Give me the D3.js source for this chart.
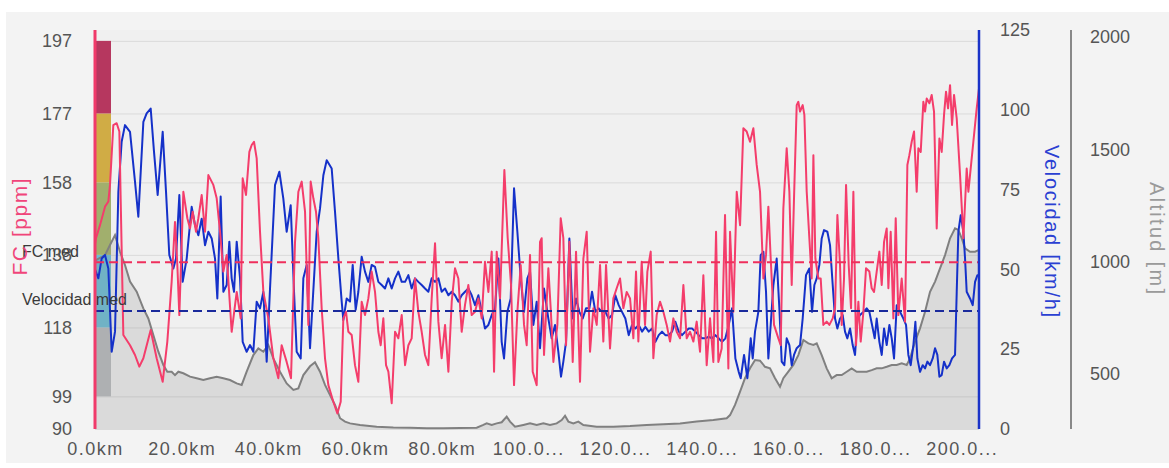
<!DOCTYPE html>
<html>
<head>
<meta charset="utf-8">
<script src="https://cdn.jsdelivr.net/npm/d3@7"></script>
<style>
  body { margin: 0; background: #fff; }
  svg { display: block; font-family: "Liberation Sans", Arial, sans-serif; }
</style>
</head>
<body>
<div id="chart"></div>
<script>
// ticks and labels
const kmTicks = [0, 20, 40, 60, 80, 100, 120, 140, 160, 180, 200];
const kmTickLabels = ["0.0km", "20.0km", "40.0km", "60.0km", "80.0km", "100.0...", "120.0...", "140.0...", "160.0...", "180.0...", "200.0..."];
const fcTicks = [90, 99, 118, 138, 158, 177, 197];
const velTicks = [0, 25, 50, 75, 100, 125];
const altTicks = [500, 1000, 1500, 2000];

// heart rate zones [from, to]
const fcZones = [[99, 118], [118, 138], [138, 158], [158, 177], [177, 197]];

const fcMed = 136;
const velMed = 37;

// [km, ppm]
const fcData = [
  [0,141],[0.23,142.6],[1.15,146.2],[2.31,151.3],[3.08,152.7],[3.46,157.3],[4.23,173.8],[5.0,174.3],[5.62,172],[6.54,115.9],
  [8.08,113.1],[9.23,110.4],[10.23,107.2],[11.16,109.5],[12.85,117.3],[14.23,109.5],[15.62,103],[16.69,114.1],[17.69,130.6],[18.46,147.1],
  [19.0,135.2],[19.46,121.4],[20.39,155.4],[21.31,148.1],[21.93,145.3],[22.54,149.9],[23.31,144.4],[23.85,148.1],[24.62,154.5],[25.39,144.4],
  [26.16,160],[27.31,157.3],[28.08,153.6],[28.85,144.4],[29.62,133.4],[30.39,138],[31.54,116.8],[32.7,127.8],[33.62,120.5],[34.08,159.1],
  [34.85,154.5],[35.62,166.4],[36.16,168.3],[36.69,169.2],[37.31,164.6],[38.08,144.4],[38.85,127.8],[40.0,120.5],[41.16,109.5],[42.31,104],
  [43.08,113.1],[44.23,108.5],[45.23,104],[46.16,141.6],[46.93,155.4],[47.7,158.2],[48.47,149.9],[49.23,118.7],[49.77,158.2],[50.39,153.6],
  [51.0,149.9],[51.54,142.6],[52.31,123.3],[53.08,109.5],[53.85,102.1],[55.0,97.5],[55.93,94.3],[56.7,97.5],[57.31,120.5],[57.93,122.3],
  [58.47,116.8],[59.24,115.9],[60.0,107.6],[60.77,103],[61.54,125.1],[62.31,121.4],[63.08,126],[63.85,133.4],[64.62,127.8],[65.39,116.8],
  [65.93,113.1],[66.54,120.5],[67.16,107.6],[67.7,105.8],[68.47,97.1],[69.24,116.8],[70.0,115],[70.78,121.4],[71.55,107.6],[72.32,113.1],
  [73.08,115],[73.85,131.5],[74.62,122.3],[75.39,116.8],[76.16,110.4],[76.93,107.6],[77.7,126],[78.47,141.2],[79.24,119.6],[80.0,109.5],
  [80.78,118.7],[81.55,105.8],[82.32,125.1],[83.08,134.3],[83.85,131.5],[84.62,116.8],[85.39,124.2],[86.16,129.7],[86.93,121.4],[87.7,122.3],
  [88.47,126],[89.24,120.5],[90.0,136.1],[90.78,127.8],[91.55,138.9],[92.09,105.8],[92.7,138.9],[93.47,126],[94.47,161.4],[95.24,142.6],
  [96.01,129.7],[96.7,102.1],[97.47,122.3],[98.24,135.2],[99.01,118.7],[99.62,113.1],[100.39,138],[101.01,105.8],[101.93,102.1],[102.7,141.6],
  [103.08,142.6],[103.62,110.4],[104.62,134.3],[105.16,123.3],[105.78,108.5],[106.7,118.7],[107.47,148.1],[108.08,142.6],[108.7,113.1],[109.47,141.6],
  [110.24,108.5],[111.01,138.9],[111.93,103],[112.7,137],[113.47,144.4],[114.24,111.3],[115.01,123.3],[115.78,118.7],[116.55,135.2],[117.31,114.1],
  [117.93,135.2],[118.85,112.2],[119.62,126],[120.39,128.8],[121.16,131.5],[121.93,123.3],[122.7,127.8],[123.47,126],[124.24,115],[124.85,133.4],
  [125.39,114.1],[126.16,136.1],[126.93,118.7],[127.47,133.4],[128.24,138.9],[128.85,109.5],[129.62,121.4],[130.39,125.1],[131.16,122.3],[131.93,118.7],
  [132.7,114.1],[133.47,120.5],[134.24,116.8],[135.01,115],[135.78,129.7],[136.55,115],[137.32,116.8],[138.09,114.1],[138.85,119.6],[139.62,111.3],
  [140.39,132.4],[141.16,107.6],[141.93,120.5],[142.7,108.5],[143.32,144.4],[143.85,108.5],[144.62,112.2],[145.39,149],[146.16,106.7],[146.55,144.4],
  [147.32,122.3],[148.09,155.4],[148.86,146.2],[149.62,172.9],[150.39,172],[151.16,169.2],[151.93,172.9],[152.7,162.8],[153.47,155.4],[154.24,131.5],
  [154.85,138],[155.39,151.3],[155.93,137],[156.7,118.7],[157.7,115],[158.24,113.1],[158.85,150.8],[159.62,167.4],[160.24,155.4],[160.78,129.7],
  [161.31,153.6],[161.93,179.3],[162.31,180.2],[162.7,177.5],[163.31,179.3],[163.7,176.6],[164.24,155.4],[164.85,142.6],[165.39,131.5],[165.78,165.5],
  [166.24,137],[166.93,131.5],[167.47,131.5],[168.08,118.7],[168.85,119.6],[169.47,118.7],[170.24,120.5],[170.78,123.3],[171.32,149],[171.93,135.2],
  [172.32,118.7],[172.85,131.5],[173.32,157.3],[173.93,135.2],[174.47,123.3],[175.01,155.4],[175.62,113.1],[176.16,125.1],[176.7,114.1],[177.32,122.3],
  [177.93,134.3],[178.7,133.4],[179.24,128.8],[179.78,127.8],[180.39,133.4],[181.01,138.9],[181.55,129.7],[182.09,141.6],[182.7,145.3],[183.09,128.8],
  [183.62,144.4],[184.24,120.5],[184.78,148.1],[185.39,121.4],[186.16,131.5],[186.93,119.6],[187.47,162.8],[187.93,165.5],[188.47,169.2],[189.01,172],
  [189.62,155.4],[190.01,167.4],[190.55,166.4],[191.16,180.2],[191.55,177.5],[191.93,181.1],[192.55,179.8],[193.08,182.1],[193.62,177.5],[194.24,145.3],
  [194.86,170.1],[195.39,166.4],[195.93,176.6],[196.39,183],[196.86,178.4],[197.32,184.8],[197.78,173.8],[198.24,182.1],[198.86,175.6],[199.63,160],
  [200.4,142.6],[201.16,161.8],[201.55,155.4],[201.93,160],[202.7,169.2],[203.47,178.4],[204,183.9]
];

// [km, km/h]
const velData = [
  [0,50],[0.77,47.2],[1.54,53.4],[2.31,54.5],[3.08,50.3],[3.85,24.2],[4.62,30.5],[5.39,74.3],[6.15,90],[6.92,95.2],
  [8.08,93.1],[9.23,77.5],[10.0,66.5],[11.16,96.2],[11.92,98.9],[12.85,100.4],[13.62,86.8],[14.46,73.3],[15.62,93.1],[16.39,74.3],
  [17.15,54.5],[18.08,50.3],[18.69,53.4],[19.46,73.3],[20.23,46.1],[21.16,53.4],[22.31,69.6],[23.08,63.9],[23.85,60.7],[24.62,65.9],
  [25.39,57.6],[26.16,61.8],[26.93,59.7],[27.7,53.4],[28.23,40.9],[29.0,72.8],[29.62,43],[30.39,45.1],[31.0,58.7],[31.54,47.2],
  [32.08,43],[32.7,58.7],[33.47,47.2],[34.08,27.3],[35.0,24.2],[35.77,26.3],[36.54,24.2],[37.31,39.9],[38.08,37.8],[38.85,43],
  [39.62,21.1],[40.39,44],[41.54,76.4],[42.54,80.6],[43.46,72.2],[44.23,61.8],[45.16,70.1],[45.93,43],[46.54,24.2],[47.47,22.1],
  [48.08,47.2],[48.85,51.4],[49.62,25.3],[51.16,61.8],[51.93,69.1],[52.7,79.5],[53.47,84.2],[54.62,81.6],[55.39,68],[56.16,53.4],
  [56.93,39.9],[57.31,34.1],[58.08,40.9],[58.85,39.9],[59.47,51.4],[60.16,37.3],[60.77,43],[61.54,54],[62.31,49.3],[63.08,46.1],
  [63.85,51.4],[64.62,50.8],[65.39,46.1],[66.16,45.1],[66.93,44],[67.7,47.2],[68.47,44],[69.24,47.2],[70.0,49.3],[70.78,46.1],
  [71.55,46.1],[72.32,48.2],[73.08,44],[73.85,47.2],[74.62,46.1],[75.39,45.1],[76.16,44],[76.93,43],[77.7,47.2],[78.47,46.1],
  [79.24,47.2],[80.0,43],[80.78,44],[81.55,41.9],[82.32,43],[83.08,41.9],[83.85,39.9],[84.62,41.9],[85.39,43],[86.16,44],
  [86.93,41.9],[87.7,38.8],[88.47,41.9],[89.24,36.7],[90.0,31.5],[90.78,32.6],[91.55,35.7],[92.32,37.8],[93.09,53.4],[93.85,27.3],
  [94.39,22.1],[95.16,36.7],[95.93,40.9],[96.7,75.4],[97.47,61.8],[98.24,47.2],[99.01,36.7],[99.78,47.2],[100.39,49.3],[101.16,32.6],
  [101.93,39.9],[102.7,25.3],[103.62,44],[104.62,34.6],[105.39,28.4],[106.16,32.6],[106.93,24.2],[107.54,16.4],[108.08,21.1],[108.7,27.3],
  [109.47,59.7],[110.24,34.6],[111.01,40.9],[111.78,36.7],[112.55,34.6],[113.31,37.8],[114.08,37.8],[114.7,43],[115.47,36.7],[116.24,37.8],
  [117.01,36.7],[117.78,36.7],[118.55,34.6],[119.31,35.7],[120.08,41.9],[120.85,38.8],[121.62,36.7],[122.39,34.6],[123.16,29.4],[123.93,32.6],
  [124.7,31.5],[125.47,32.6],[126.24,30.5],[127.01,32],[127.78,30.5],[128.55,31.5],[129.32,27.3],[130.09,29.4],[130.85,30.5],[131.62,29.4],
  [132.39,29.4],[133.16,30.5],[133.93,33.6],[134.7,30.5],[135.47,29.4],[136.24,30.5],[137.01,31.5],[137.78,31.5],[138.55,30.5],[139.32,29.4],
  [140.09,28.4],[140.85,28.4],[141.62,28.9],[142.39,28.4],[143.16,29.4],[143.93,28.4],[144.7,27.3],[145.47,28.4],[146.24,32.6],[147.01,37.8],
  [147.78,22.1],[148.55,17.9],[149.01,15.9],[149.78,23.2],[150.55,15.9],[151.32,28.4],[151.78,22.1],[152.31,30.5],[153.08,36.7],[153.62,54.5],
  [154.24,55.5],[154.85,43],[155.39,22.1],[155.93,32.6],[156.55,45.1],[157.31,53.4],[157.93,37.8],[158.47,21.1],[159.08,20],[159.62,28.4],
  [160.24,26.3],[160.78,20],[161.31,23.2],[161.93,25.3],[162.7,26.3],[163.31,34.6],[164.08,48.2],[164.85,50.3],[165.47,36.7],[166.01,45.1],
  [166.55,47.2],[167.16,51.4],[167.7,59.7],[168.24,62.3],[169.01,61.8],[169.62,57.6],[170.24,45.1],[170.78,34.6],[171.32,31.5],[171.93,34.6],
  [172.55,35.7],[173.08,30.5],[173.62,28.4],[174.24,31.5],[174.85,26.3],[175.39,23.2],[175.93,34.6],[176.55,35.7],[177.32,36.7],[178.08,37.8],
  [178.7,36.7],[179.32,32.6],[179.93,28.4],[180.39,34.6],[181.01,27.3],[181.55,23.2],[182.09,31.5],[182.7,26.3],[183.32,32.6],[183.86,28.4],
  [184.39,22.1],[185.01,38.8],[185.78,36.7],[186.55,34.6],[187.16,32.6],[187.7,23.2],[188.24,20],[188.86,26.3],[189.32,33.6],[189.78,22.1],
  [190.39,17.9],[191.01,20],[191.55,19],[192.09,21.1],[192.7,20],[193.32,22.1],[193.86,25.3],[194.39,23.2],[194.86,16.4],[195.39,16.9],
  [195.93,21.1],[196.55,19],[197.16,20],[197.78,22.1],[198.47,23.2],[198.86,43],[199.24,61.8],[199.78,67],[200.4,61.8],[200.78,53.4],
  [201.16,43],[201.93,40.9],[202.55,38.8],[203.09,46.1],[203.63,48.2],[204,48.2]
];

// [km, m]
const altData = [
  [0,1005],[2.31,1030],[3.46,1075],[4.62,1119],[5.77,1045],[6.92,986],[8.08,912],[9.62,867],[11.15,793],[12.31,748],
  [13.46,674],[14.62,600],[15.77,541],[16.69,511],[17.69,511],[18.46,496],[19.23,511],[20.38,504],[21.93,489],[23.46,482],
  [25.0,474],[26.54,482],[28.08,489],[29.62,482],[31.15,474],[32.69,459],[33.85,452],[35.0,511],[36.54,585],[37.69,615],
  [38.85,600],[40.0,630],[41.15,570],[42.69,511],[44.23,459],[45.77,430],[46.92,437],[48.08,496],[49.62,535],[50.77,553],
  [51.93,511],[53.08,452],[54.24,407],[55.39,363],[56.54,304],[57.7,289],[58.85,281],[61.16,274],[65.0,266],[68.85,263],
  [72.7,262],[76.55,259],[80.39,259],[84.24,261],[88.08,262],[89.62,274],[90.39,281],[91.55,274],[92.7,281],[93.85,286],
  [95.01,311],[95.78,289],[96.93,266],[98.85,274],[100.39,281],[101.93,274],[103.47,281],[105,274],[106.54,281],[107.7,296],
  [108.47,315],[109.24,289],[110.39,281],[111.54,289],[112.7,274],[115.77,266],[119.62,266],[123.47,269],[127.31,274],[131.16,277],
  [135.01,281],[138.85,289],[142.7,296],[145.78,304],[146.55,318],[147.7,363],[148.86,422],[150.0,482],[151.16,526],[152.32,563],
  [153.47,560],[154.62,533],[155.77,526],[156.93,482],[158.08,444],[158.85,482],[160.0,511],[161.16,541],[162.31,585],[163.47,652],
  [164.62,637],[165.78,630],[166.55,637],[167.7,585],[168.85,526],[170.0,482],[171.16,496],[172.32,496],[173.47,511],[174.62,526],
  [175.78,511],[176.93,511],[178.08,511],[179.24,518],[180.39,526],[181.55,526],[182.7,533],[183.85,541],[185.01,541],[186.16,548],
  [187.32,541],[188.08,570],[189.24,645],[190.39,704],[191.55,778],[192.7,867],[193.86,912],[195.01,971],[196.16,1030],[197.32,1105],
  [198.47,1149],[199.24,1142],[200.01,1105],[200.78,1060],[201.93,1045],[203.09,1045],[204,1053]
];

const width = 1169;
const height = 468;
const plot = { left: 95, right: 979, top: 30, bottom: 429 };

const zoneColors = ["#b9bcbe", "#6cbed6", "#a1af6d", "#d0ac45", "#b6375f"];

const svg = d3.select("#chart").append("svg")
  .attr("width", width)
  .attr("height", height);

const x = d3.scaleLinear().domain([0, 204]).range([plot.left, plot.right]);
const yFc = d3.scaleLinear().domain([90, 200]).range([plot.bottom, plot.top]);
const yVel = d3.scaleLinear().domain([0, 125]).range([plot.bottom, plot.top]);
const yAlt = d3.scaleLinear().domain([256, 2032]).range([plot.bottom, plot.top]);

// background panel
svg.append("rect")
  .attr("x", 6).attr("y", 12)
  .attr("width", width - 6).attr("height", 451)
  .attr("fill", "#f3f3f3");

svg.append("rect")
  .attr("x", plot.left).attr("y", plot.top)
  .attr("width", plot.right - plot.left).attr("height", plot.bottom - plot.top)
  .attr("fill", "#f0f0f0");

// grid lines at FC ticks
svg.append("g")
  .selectAll("line")
  .data(fcTicks)
  .enter().append("line")
  .attr("x1", plot.left)
  .attr("x2", plot.right)
  .attr("y1", d => yFc(d) + 0.5)
  .attr("y2", d => yFc(d) + 0.5)
  .attr("stroke", "#dadada")
  .attr("stroke-width", 1);

// zone bar on the left
svg.append("g")
  .selectAll("rect")
  .data(fcZones)
  .enter().append("rect")
  .attr("x", plot.left + 1)
  .attr("width", 15)
  .attr("y", d => yFc(d[1]))
  .attr("height", d => yFc(d[0]) - yFc(d[1]))
  .attr("fill", (d, i) => zoneColors[i]);

// altitude area
const altArea = d3.area()
  .x(d => x(d[0]))
  .y0(plot.bottom)
  .y1(d => yAlt(d[1]));

svg.append("path")
  .datum(altData)
  .attr("d", altArea)
  .attr("fill", "rgba(130,130,130,0.2)");

svg.append("path")
  .datum(altData)
  .attr("d", d3.line().x(d => x(d[0])).y(d => yAlt(d[1])))
  .attr("fill", "none")
  .attr("stroke", "#808080")
  .attr("stroke-width", 2);

// speed and heart rate lines
svg.append("path")
  .datum(velData)
  .attr("d", d3.line().x(d => x(d[0])).y(d => yVel(d[1])))
  .attr("fill", "none")
  .attr("stroke", "#1531c9")
  .attr("stroke-width", 2)
  .attr("stroke-linejoin", "round");

svg.append("path")
  .datum(fcData)
  .attr("d", d3.line().x(d => x(d[0])).y(d => yFc(d[1])))
  .attr("fill", "none")
  .attr("stroke", "#f43d6b")
  .attr("stroke-width", 2)
  .attr("stroke-linejoin", "round");

// average lines
svg.append("line")
  .attr("x1", plot.left).attr("x2", plot.right)
  .attr("y1", yFc(fcMed)).attr("y2", yFc(fcMed))
  .attr("stroke", "#ee2f5c")
  .attr("stroke-width", 2)
  .attr("stroke-dasharray", "9,5");

svg.append("line")
  .attr("x1", plot.left).attr("x2", plot.right)
  .attr("y1", yVel(velMed)).attr("y2", yVel(velMed))
  .attr("stroke", "#1a2a9c")
  .attr("stroke-width", 2)
  .attr("stroke-dasharray", "9,5");

svg.append("text")
  .attr("x", 22).attr("y", yFc(fcMed) - 5)
  .style("font-size", "16px")
  .style("fill", "#3a3a3a")
  .text("FC med");

svg.append("text")
  .attr("x", 22).attr("y", yVel(velMed) - 6)
  .style("font-size", "16px")
  .style("fill", "#3a3a3a")
  .text("Velocidad med");

// axes
const styleAxis = g => {
  g.select(".domain").remove();
  g.selectAll("text")
    .style("font-size", "18px")
    .style("fill", "#555")
    .style("font-family", "'Liberation Sans', Arial, sans-serif");
};

svg.append("g")
  .attr("transform", `translate(${plot.left},0)`)
  .call(d3.axisLeft(yFc).tickValues(fcTicks).tickSize(0).tickPadding(23))
  .call(styleAxis);

svg.append("g")
  .attr("transform", `translate(${plot.right},0)`)
  .call(d3.axisRight(yVel).tickValues(velTicks).tickSize(0).tickPadding(21))
  .call(styleAxis);

svg.append("g")
  .attr("transform", "translate(1071,0)")
  .call(d3.axisRight(yAlt).tickValues(altTicks).tickFormat(d3.format("d")).tickSize(0).tickPadding(19))
  .call(styleAxis);

svg.append("g")
  .attr("transform", `translate(0,${plot.bottom})`)
  .call(d3.axisBottom(x).tickValues(kmTicks).tickFormat((d, i) => kmTickLabels[i]).tickSize(0).tickPadding(13))
  .call(styleAxis)
  .selectAll("text")
  .style("letter-spacing", "1.5px");

// axis lines
svg.append("line")
  .attr("x1", plot.left).attr("x2", plot.left)
  .attr("y1", plot.top).attr("y2", plot.bottom)
  .attr("stroke", "#f03a6a").attr("stroke-width", 3);

svg.append("line")
  .attr("x1", plot.right).attr("x2", plot.right)
  .attr("y1", plot.top).attr("y2", plot.bottom)
  .attr("stroke", "#1a33c8").attr("stroke-width", 2.5);

svg.append("line")
  .attr("x1", 1071).attr("x2", 1071)
  .attr("y1", plot.top).attr("y2", plot.bottom)
  .attr("stroke", "#888").attr("stroke-width", 2);

// axis titles
svg.append("text")
  .attr("transform", "translate(19,227) rotate(-90)")
  .attr("text-anchor", "middle")
  .attr("dominant-baseline", "central")
  .attr("textLength", 97)
  .style("font-size", "21px")
  .style("fill", "#f0457a")
  .text("FC [ppm]");

svg.append("text")
  .attr("transform", "translate(1052,231) rotate(90)")
  .attr("text-anchor", "middle")
  .attr("dominant-baseline", "central")
  .attr("textLength", 172)
  .style("font-size", "20px")
  .style("fill", "#2a40d2")
  .text("Velocidad [km/h]");

svg.append("text")
  .attr("transform", "translate(1157,238) rotate(90)")
  .attr("text-anchor", "middle")
  .attr("dominant-baseline", "central")
  .attr("textLength", 112)
  .style("font-size", "20px")
  .style("fill", "#9a9a9a")
  .text("Altitud [m]");
</script>
</body>
</html>
